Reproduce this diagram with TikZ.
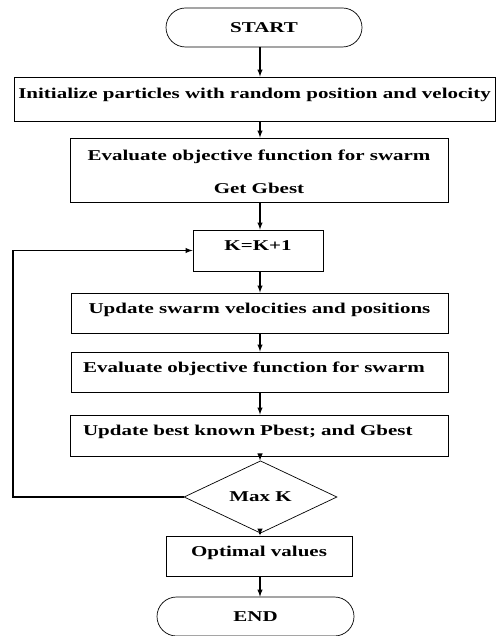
\documentclass[tikz,border=0pt]{standalone}
\usepackage{fontspec}
\setmainfont{Liberation Serif}[FakeStretch=1.4]
\usetikzlibrary{arrows,shapes.misc,shapes.geometric}
\tikzset{>=latex}
\tikzset{
	stepbox/.style={draw=black, line width=0.9pt, fill=white, inner sep=0pt, text height=10pt, text depth=10pt},
	termbox/.style={draw=black, line width=0.7pt, rounded rectangle, inner sep=0pt, minimum width=196pt, minimum height=39pt},
	flow/.style={->, line width=1.4pt}
}

\begin{document}
\begin{tikzpicture}[x=1pt, y=-1pt, font=\fontsize{15}{18}\selectfont\bfseries]
		% the page
		\useasboundingbox (0, 0) rectangle (496, 636);
		\coordinate (axis) at (260, 0);
		\coordinate (loop) at (13, 0);

		% the steps
		\node[termbox] (start) at (264, 27.5) {START};
		\node[stepbox, minimum width=481pt, minimum height=44pt] (init) at (254.5, 99) {Initialize particles with random position and velocity};
		\node[stepbox, minimum width=378pt, minimum height=64pt, align=center, text height=53pt, text depth=5pt] (eval) at (259, 170) {Evaluate objective function for swarm\\[15pt]Get Gbest};
		\node[stepbox, minimum width=130pt, minimum height=41pt] (kinc) at (258, 250.5) {K=K+1};
		\node[stepbox, minimum width=377pt, minimum height=40pt] (upd) at (259.5, 313) {Update swarm velocities and positions};
		\node[stepbox, minimum width=377pt, minimum height=40pt, text width=353pt, align=left] (evaltwo) at (259.5, 372) {Evaluate objective function for swarm};
		\node[stepbox, minimum width=378pt, minimum height=41pt, text width=352pt, align=left] (best) at (259, 435.5) {Update best known Pbest; and Gbest};
		\node[draw=black, line width=0.7pt, diamond, inner sep=0pt, minimum width=153pt, minimum height=46pt] (maxk) at (260.5, 497) {Max K};
		\node[stepbox, minimum width=186pt, minimum height=40pt] (opt) at (259, 556) {Optimal values};
		\node[termbox, minimum width=197pt] (finish) at (255.5, 616.5) {END};

		% the arrows
		\draw[flow] (axis |- start.south) -- (axis |- init.north);
		\draw[flow] (axis |- init.south) -- (axis |- eval.north);
		\draw[flow] (axis |- eval.south) -- (axis |- kinc.north);
		\draw[flow] (axis |- kinc.south) -- (axis |- upd.north);
		\draw[flow] (axis |- upd.south) -- (axis |- evaltwo.north);
		\draw[flow] (axis |- evaltwo.south) -- (axis |- best.north);
		\draw[flow] (axis |- best.south) -- (axis |- maxk.north);
		\draw[flow] (axis |- maxk.south) -- (axis |- opt.north);
		\draw[flow] (axis |- opt.south) -- (axis |- finish.north);

		% the loop back
		\draw[flow] (maxk.west) -| (loop |- kinc.west) -- (kinc.west);
	\end{tikzpicture}
\end{document}
